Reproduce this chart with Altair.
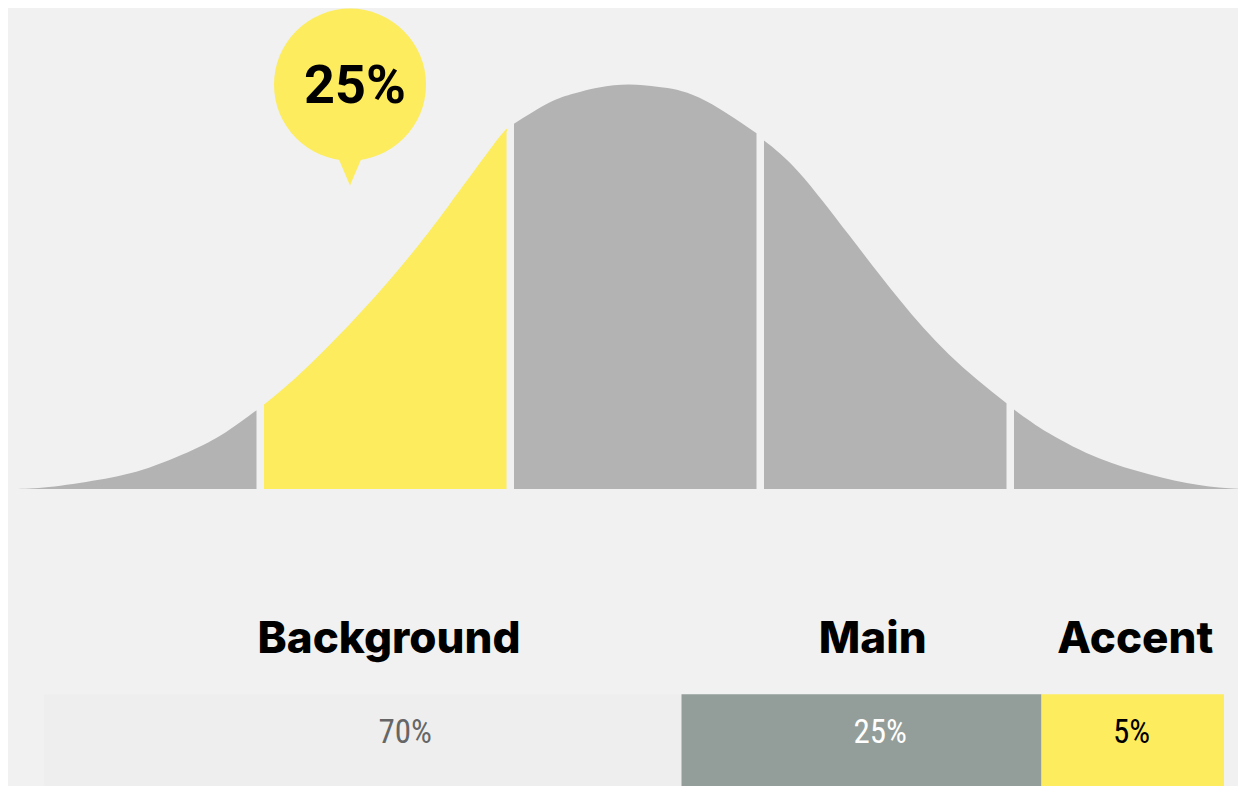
import altair as alt
import pandas as pd

# ---- bell curve: position in standard scores, height relative to the peak
curve_z = [-2.48, -2.34, -2.14, -1.94, -1.74, -1.62, -1.51, -1.48, -1.34, -1.14, -0.94,
           -0.74, -0.54, -0.51, -0.48, -0.34, -0.24, -0.14, -0.02, 0.10, 0.26, 0.49, 0.52,
           0.66, 0.86, 1.06, 1.26, 1.49, 1.52, 1.66, 1.86, 2.06, 2.26, 2.44]
curve_h = [0.0, 0.005, 0.023, 0.053, 0.104, 0.146, 0.195, 0.209, 0.283, 0.406, 0.544,
           0.702, 0.869, 0.882, 0.903, 0.955, 0.978, 0.993, 1.0, 0.994, 0.968, 0.880, 0.862,
           0.783, 0.628, 0.470, 0.333, 0.212, 0.197, 0.138, 0.076, 0.037, 0.010, 0.0]
seg_start = [-2.48, -1.48, -0.48, 0.52, 1.52]
seg_end = [-1.51, -0.51, 0.49, 1.49, 2.44]
highlight_seg = 1
bubble_label = ["25%"]
bubble_z = [-1.136]

# ---- palette split bar
bar_names = ["Background", "Main", "Accent"]
bar_share = ["70%", "25%", "5%"]
bar_left = [-2.36, 0.19, 1.63]
bar_right = [0.19, 1.63, 2.36]
name_z = [-0.98, 0.955, 2.005]
share_z = [-0.915, 0.985, 1.99]

# ---- styles
BG = "#f1f1f1"
GRAY = "#b3b3b3"
YELLOW = "#fcec5e"
bar_colors = ["#eeeeee", "#939e9a", YELLOW]
share_colors = ["#666666", "#ffffff", "#000000"]

rows = []
for i, (s, e) in enumerate(zip(seg_start, seg_end)):
    for z, h in zip(curve_z, curve_h):
        if s - 1e-9 <= z <= e + 1e-9:
            rows.append({"z": z, "h": h, "base": 0.0, "seg": f"s{i}",
                         "kind": "hi" if i == highlight_seg else "lo"})
curve_df = pd.DataFrame(rows)

bars_df = pd.DataFrame({
    "name": bar_names, "share": bar_share, "left": bar_left, "right": bar_right,
    "name_z": name_z, "share_z": share_z,
    "top": [-0.507] * 3, "bottom": [-0.80] * 3,
    "name_y": [-0.374] * 3, "share_y": [-0.603] * 3,
})

bubble_df = pd.DataFrame({"z": bubble_z, "label": bubble_label,
                          "cy": [1.0], "ty": [0.804], "ly": [0.993]})

xs = alt.Scale(domain=[-2.504, 2.416], nice=False, zero=False)
ys = alt.Scale(domain=[-0.734, 1.182], nice=False, zero=False)

area = alt.Chart(curve_df).mark_area(interpolate="natural", clip=True).encode(
    x=alt.X("z:Q", scale=xs, axis=None),
    y=alt.Y("h:Q", scale=ys, axis=None, stack=None),
    y2="base:Q",
    fill=alt.Fill("kind:N", scale=alt.Scale(domain=["lo", "hi"], range=[GRAY, YELLOW]), legend=None),
    detail="seg:N",
)

circle = alt.Chart(bubble_df).mark_circle(size=23104, opacity=1, color=YELLOW).encode(
    x=alt.X("z:Q", scale=xs, axis=None),
    y=alt.Y("cy:Q", scale=ys, axis=None),
)
pointer = alt.Chart(bubble_df).mark_point(
    shape="M-0.85,-1L0.85,-1L0,1Z", size=1849, filled=True, opacity=1, color=YELLOW, strokeWidth=0
).encode(
    x=alt.X("z:Q", scale=xs, axis=None),
    y=alt.Y("ty:Q", scale=ys, axis=None),
)
bubble_text = alt.Chart(bubble_df).mark_text(
    font="Roboto", fontWeight="bold", fontSize=54, color="#000000", baseline="middle", align="center", dx=5
).encode(
    x=alt.X("z:Q", scale=xs, axis=None),
    y=alt.Y("ly:Q", scale=ys, axis=None),
    text="label:N",
)

rects = alt.Chart(bars_df).mark_rect(clip=True).encode(
    x=alt.X("left:Q", scale=xs, axis=None),
    x2="right:Q",
    y=alt.Y("top:Q", scale=ys, axis=None),
    y2="bottom:Q",
    fill=alt.Fill("name:N", scale=alt.Scale(domain=bar_names, range=bar_colors), legend=None),
)
names = alt.Chart(bars_df).mark_text(
    font="Inter", fontWeight=800, fontSize=44, color="#000000", baseline="middle", align="center"
).encode(
    x=alt.X("name_z:Q", scale=xs, axis=None),
    y=alt.Y("name_y:Q", scale=ys, axis=None),
    text="name:N",
)
shares = alt.Chart(bars_df).mark_text(
    font="Liberation Sans Narrow, Roboto Condensed, Roboto", fontSize=33, baseline="middle", align="center"
).encode(
    x=alt.X("share_z:Q", scale=xs, axis=None),
    y=alt.Y("share_y:Q", scale=ys, axis=None),
    text="share:N",
    color=alt.Color("name:N", scale=alt.Scale(domain=bar_names, range=share_colors), legend=None),
)

chart = alt.layer(area, circle, pointer, bubble_text, rects, names, shares).resolve_scale(
    color="independent", fill="independent"
).properties(
    width=1230, height=778,
    autosize=alt.AutoSizeParams(type="fit", contains="padding"),
    padding=0, background=BG,
).configure_view(stroke=None)

chart.save("out.html", embed_options={"renderer": "svg", "actions": False})
